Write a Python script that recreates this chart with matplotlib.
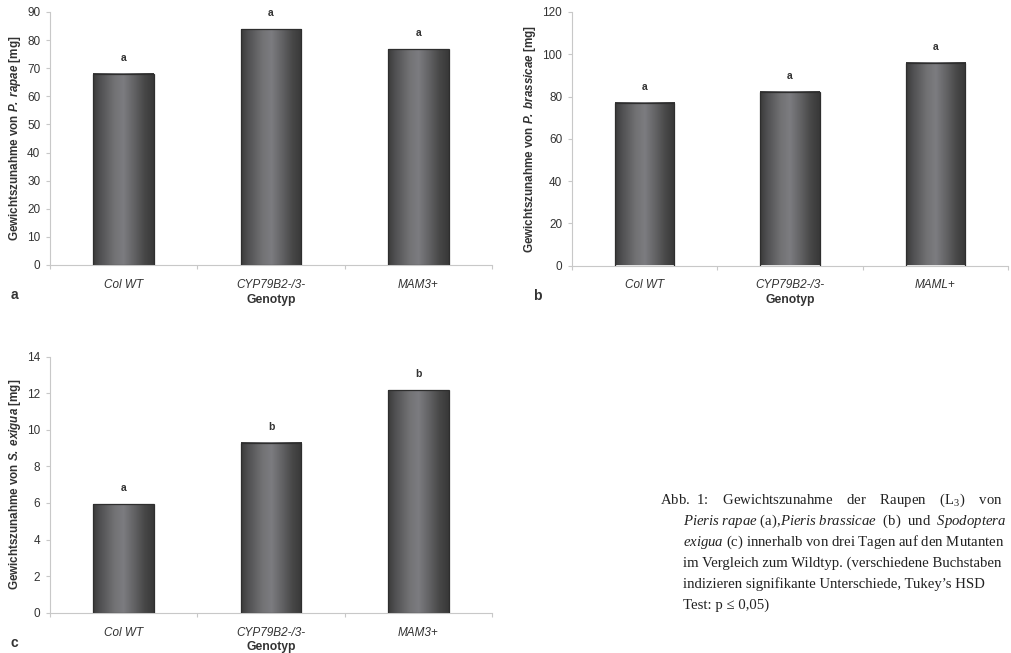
import numpy as np
import matplotlib
matplotlib.use("Agg")
import matplotlib.pyplot as plt
from matplotlib.colors import LinearSegmentedColormap

plt.rcParams["font.family"] = ["Liberation Sans", "DejaVu Sans"]
plt.rcParams["mathtext.fontset"] = "custom"
plt.rcParams["mathtext.rm"] = "Liberation Serif"
plt.rcParams["mathtext.it"] = "Liberation Serif:italic"
plt.rcParams["mathtext.sf"] = "Liberation Sans:italic:bold"
plt.rcParams["mathtext.default"] = "rm"

# data
genotypes_a = ["Col WT", "CYP79B2-/3-", "MAM3+"]
weights_a = [68.0, 83.9, 76.8]
letters_a = ["a", "a", "a"]

genotypes_b = ["Col WT", "CYP79B2-/3-", "MAML+"]
weights_b = [76.9, 81.9, 95.8]
letters_b = ["a", "a", "a"]

genotypes_c = ["Col WT", "CYP79B2-/3-", "MAM3+"]
weights_c = [5.93, 9.30, 12.18]
letters_c = ["a", "b", "b"]

# shaded "cylinder" look of the bars
bar_cmap = LinearSegmentedColormap.from_list(
    "cyl",
    [(0.0, "#3a3a3a"), (0.12, "#505052"), (0.35, "#727274"), (0.5, "#7c7c80"),
     (0.68, "#626264"), (0.85, "#474747"), (1.0, "#383838")],
)
grad = np.linspace(0, 1, 256).reshape(1, -1)

axis_col = "#c8c8c8"
text_col = "#333333"


def draw_panel(ax, cats, vals, letters, ymax, ystep, ylabel, panel):
    x = np.arange(len(cats))
    w = 0.41
    for xi, v, let in zip(x, vals, letters):
        ax.imshow(grad, cmap=bar_cmap, aspect="auto",
                  extent=[xi - w / 2, xi + w / 2, 0, v], zorder=2)
        ax.annotate(let, (xi, v), xytext=(0, 8), textcoords="offset points",
                    ha="center", va="bottom", fontsize=7.5, fontweight="bold",
                    color=text_col)
    ax.bar(x, vals, width=w, fill=False, edgecolor="#2e2e2e", linewidth=0.9, zorder=3)
    ax.set_xlim(-0.5, len(cats) - 0.5)
    ax.set_ylim(0, ymax)
    ax.set_yticks(np.arange(0, ymax + ystep / 2, ystep))
    ax.set_xticks(x)
    ax.set_xticklabels(cats, fontstyle="italic", fontsize=8.5, color=text_col)
    ax.set_xticks(np.arange(-0.5, len(cats)), minor=True)
    ax.tick_params(axis="x", which="major", length=0, pad=10)
    ax.tick_params(axis="x", which="minor", length=3, color=axis_col, width=0.8)
    ax.tick_params(axis="y", length=3, color=axis_col, width=0.8,
                   labelsize=8.5, labelcolor=text_col, pad=4)
    for s in ["top", "right"]:
        ax.spines[s].set_visible(False)
    for s in ["left", "bottom"]:
        ax.spines[s].set_color(axis_col)
        ax.spines[s].set_linewidth(0.8)
    ax.set_ylabel(ylabel, fontsize=8.4, fontweight="bold", color=text_col, labelpad=3)
    ax.set_xlabel("Genotyp", fontsize=8.7, fontweight="bold", color=text_col, labelpad=2)
    ax.text(-0.09, -0.12, panel, transform=ax.transAxes, fontsize=10,
            fontweight="bold", color=text_col, ha="left", va="center")


W, H = 1012, 653
fig = plt.figure(figsize=(W / 100, H / 100), dpi=100)

ax_a = fig.add_axes([50 / W, 1 - 265 / H, 442 / W, 253 / H])
ax_b = fig.add_axes([572 / W, 1 - 265.5 / H, 436 / W, 253.5 / H])
ax_c = fig.add_axes([50 / W, 1 - 612.7 / H, 442 / W, 256 / H])

draw_panel(ax_a, genotypes_a, weights_a, letters_a, 90, 10,
           r"Gewichtszunahme von $\mathsf{P.\ rapae}$ [mg]", "a")
draw_panel(ax_b, genotypes_b, weights_b, letters_b, 120, 20,
           r"Gewichtszunahme von $\mathsf{P.\ brassicae}$ [mg]", "b")
draw_panel(ax_c, genotypes_c, weights_c, letters_c, 14, 2,
           r"Gewichtszunahme von $\mathsf{S.\ exigua}$ [mg]", "c")

# caption, justified by hand with extra spaces
caption = [
    (660, 500, r"Abb.  1:    Gewichtszunahme    der    Raupen    (L$_3$)    von"),
    (683, 521, r"$\mathit{Pieris\ rapae}$ (a),$\mathit{Pieris\ brassicae}$  (b)  und  $\mathit{Spodoptera}$"),
    (683, 542, r"$\mathit{exigua}$ (c) innerhalb von drei Tagen auf den Mutanten"),
    (683, 563, "im Vergleich zum Wildtyp. (verschiedene Buchstaben"),
    (683, 584, "indizieren signifikante Unterschiede, Tukey’s HSD"),
    (683, 605, "Test: p ≤ 0,05)"),
]
for cx, cy, line in caption:
    fig.text(cx / W, 1 - cy / H, line, fontsize=10.6, color="#222222",
             family=["Liberation Serif", "DejaVu Serif"], ha="left", va="center")

fig.savefig("out.png", dpi=100)
